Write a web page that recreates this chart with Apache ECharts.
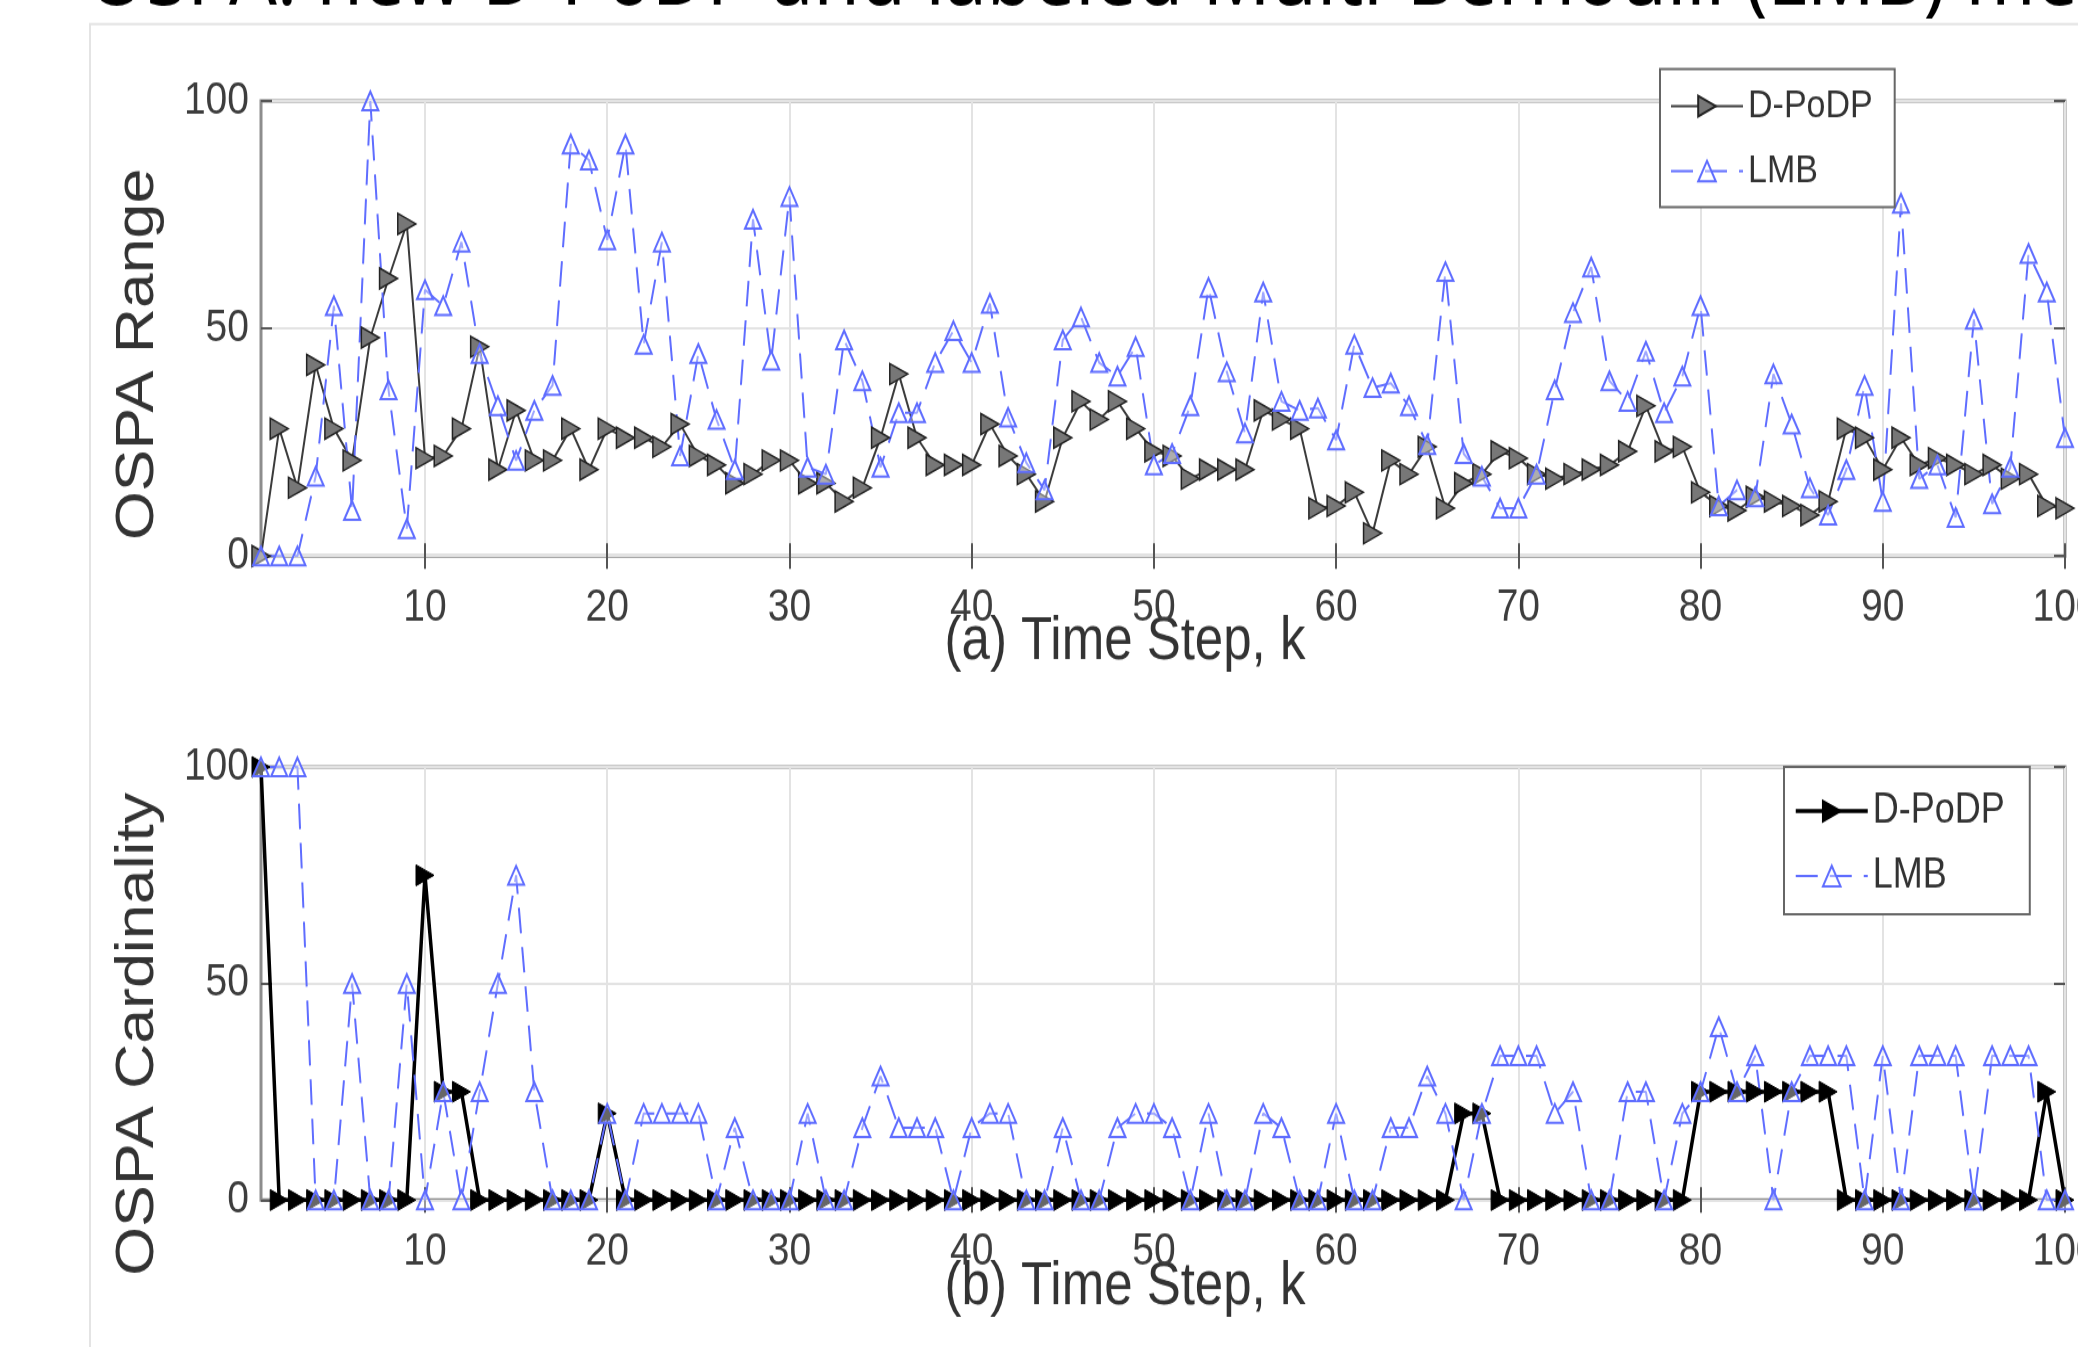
<!DOCTYPE html>
<html>
<head>
<meta charset="utf-8">
<script src="https://cdn.jsdelivr.net/npm/echarts@6/dist/echarts.min.js"></script>
<style>
  html, body { margin: 0; padding: 0; background: #fff; overflow: hidden; width: 2078px; height: 1347px; }
  /* the source figure is stretched vertically, so draw at 1161px and stretch */
  #chart { width: 2078px; height: 1161px; transform: scaleY(1.16021); transform-origin: 0 0; }
</style>
</head>
<body>
<div id="chart"></div>
<script>
const SY = 1347 / 1161;

// time steps k = 1..100
const steps = [];
for (let k = 1; k <= 100; k++) steps.push(String(k));
const xTicks = [10, 20, 30, 40, 50, 60, 70, 80, 90, 100];

// (a) OSPA range
const rangeDpodp = [
  0, 28, 15, 42, 28, 21, 48, 61, 73, 21.5,
  22, 28, 46, 19, 32, 21, 21, 28, 19, 28,
  26, 26, 24, 29, 22, 20, 16, 18, 21, 21,
  16, 16, 12, 15, 26, 40, 26, 20, 20, 20,
  29, 22, 18, 12, 26, 34, 30, 34, 28, 23,
  22, 17, 19, 19, 19, 32, 30, 28, 10.5, 11,
  14, 5, 21, 18, 24, 10.5, 16, 18, 23, 21.5,
  18, 17, 18, 19, 20, 23, 33, 23, 24, 14,
  11, 10, 13, 12, 11, 9, 12, 28, 26, 19,
  26, 20, 21.5, 20, 18, 20, 17, 18, 11, 10.5
];
const rangeLmb = [
  0, 0, 0, 17.5, 55, 10, 100, 36.5, 6, 58.5,
  55, 69, 44.5, 33, 21, 32, 37.5, 90.5, 87, 69.5,
  90.5, 46.5, 69, 22, 44.5, 30, 19, 74, 43, 79,
  19.5, 18, 47.5, 38.5, 19.5, 31.5, 31.5, 42.5, 49.5, 42.5,
  55.5, 30.5, 20.5, 14.5, 47.5, 52.5, 42.5, 39.5, 46, 20,
  22.5, 33, 59, 40.5, 27, 58, 34, 32, 32.5, 25.5,
  46.5, 37, 38, 33, 24.5, 62.5, 22.5, 17.5, 10.5, 10.5,
  18, 36.5, 53.5, 63.5, 38.5, 34, 45, 31.5, 39.5, 55,
  11, 14.5, 13, 40, 29, 15, 9, 19, 37.5, 12,
  77.5, 17, 20, 8.5, 52, 11.5, 19.5, 66.5, 58, 26
];

// (b) OSPA cardinality
const cardDpodp = [
  100, 0, 0, 0, 0, 0, 0, 0, 0, 75,
  25, 25, 0, 0, 0, 0, 0, 0, 0, 20,
  0, 0, 0, 0, 0, 0, 0, 0, 0, 0,
  0, 0, 0, 0, 0, 0, 0, 0, 0, 0,
  0, 0, 0, 0, 0, 0, 0, 0, 0, 0,
  0, 0, 0, 0, 0, 0, 0, 0, 0, 0,
  0, 0, 0, 0, 0, 0, 20, 20, 0, 0,
  0, 0, 0, 0, 0, 0, 0, 0, 0, 25,
  25, 25, 25, 25, 25, 25, 25, 0, 0, 0,
  0, 0, 0, 0, 0, 0, 0, 0, 25, 0
];
const cardLmb = [
  100, 100, 100, 0, 0, 50, 0, 0, 50, 0,
  25, 0, 25, 50, 75, 25, 0, 0, 0, 20,
  0, 20, 20, 20, 20, 0, 16.7, 0, 0, 0,
  20, 0, 0, 16.7, 28.6, 16.7, 16.7, 16.7, 0, 16.7,
  20, 20, 0, 0, 16.7, 0, 0, 16.7, 20, 20,
  16.7, 0, 20, 0, 0, 20, 16.7, 0, 0, 20,
  0, 0, 16.7, 16.7, 28.6, 20, 0, 20, 33.3, 33.3,
  33.3, 20, 25, 0, 0, 25, 25, 0, 20, 25,
  40, 25, 33.3, 0, 25, 33.3, 33.3, 33.3, 0, 33.3,
  0, 33.3, 33.3, 33.3, 0, 33.3, 33.3, 33.3, 0, 0
];

const FONT = "'Liberation Sans', Arial, Helvetica, sans-serif";
const BLUE = '#5f6dff';
const RIGHT_TRI = 'path://M0,0L10,5L0,10Z';
const onTick = (i, v) => xTicks.indexOf(Number(v)) >= 0;
const tickLine = { color: '#555', width: 2 };

function xAxes(grid) {
  return [{
    type: 'category', gridIndex: grid, data: steps, boundaryGap: false,
    axisLine: { show: false },
    axisTick: { inside: true, length: 11, interval: onTick, lineStyle: tickLine },
    axisLabel: { interval: onTick, margin: 45, verticalAlign: 'middle', fontSize: 39, color: '#3d3d3d', fontFamily: FONT },
    splitLine: { show: true, interval: onTick, lineStyle: { color: '#e3e3e3', width: 2 } }
  }, {
    type: 'category', gridIndex: grid, data: steps, boundaryGap: false, position: 'top',
    axisLine: { show: false }, axisLabel: { show: false }, splitLine: { show: false },
    axisTick: { inside: true, length: 11, interval: onTick, lineStyle: tickLine }
  }];
}

function yAxes(grid) {
  return [{
    type: 'value', gridIndex: grid, min: 0, max: 100, interval: 50,
    axisLine: { show: false },
    axisTick: { show: true, inside: true, length: 11, lineStyle: tickLine },
    axisLabel: { margin: 12, fontSize: 39, color: '#3d3d3d', fontFamily: FONT },
    splitLine: { lineStyle: { color: '#e3e3e3', width: 2 } }
  }, {
    type: 'value', gridIndex: grid, min: 0, max: 100, interval: 50, position: 'right',
    axisLine: { show: false }, axisLabel: { show: false }, splitLine: { show: false },
    axisTick: { show: true, inside: true, length: 11, lineStyle: tickLine }
  }];
}

function dpodp(data, xi, yi, bold) {
  return {
    name: 'D-PoDP', type: 'line', xAxisIndex: xi, yAxisIndex: yi, data: data,
    symbol: RIGHT_TRI, symbolSize: [18, 18], showAllSymbol: true,
    lineStyle: { color: bold ? '#000' : '#3b3b3b', width: bold ? 3.5 : 2 },
    itemStyle: bold ? { color: '#000', borderColor: '#000', borderWidth: 1 }
                    : { color: '#777', borderColor: '#222', borderWidth: 1.5 }
  };
}

function lmb(data, xi, yi) {
  return {
    name: 'LMB', type: 'line', xAxisIndex: xi, yAxisIndex: yi, data: data,
    symbol: 'triangle', symbolSize: [16, 16], showAllSymbol: true,
    lineStyle: { color: BLUE, width: 2, type: [22, 12] },
    itemStyle: { color: 'rgba(255,255,255,0.4)', borderColor: BLUE, borderWidth: 2 }
  };
}

function legendBox(left, top, fontSize, padding, bold) {
  return {
    left: left, top: top, orient: 'vertical', padding: padding, itemGap: 16,
    itemWidth: 72, itemHeight: 22, selectedMode: false,
    backgroundColor: '#fff', borderColor: '#666', borderWidth: 2,
    textStyle: { fontSize: fontSize, lineHeight: 40, color: '#333', fontFamily: FONT },
    data: [
      bold ? { name: 'D-PoDP', itemStyle: { color: '#000', borderColor: '#000' }, lineStyle: { color: '#000', width: 3.5 } }
           : { name: 'D-PoDP' },
      { name: 'LMB' }
    ]
  };
}

function label(text, x, y, size, rot) {
  return {
    type: 'text', x: x, y: y, rotation: rot || 0,
    style: { text: text, font: size + 'px ' + FONT, fill: '#333',
             align: 'center', verticalAlign: 'middle', textAlign: 'center', textVerticalAlign: 'middle' }
  };
}

const chart = echarts.init(document.getElementById('chart'), null, { renderer: 'canvas' });

chart.setOption({
  animation: false,
  backgroundColor: '#fff',
  grid: [
    { left: 261, right: 13, top: 101 / SY, height: 455 / SY, outerBoundsMode: 'none',
      show: true, borderColor: '#8d8d8d', borderWidth: 3 },
    { left: 261, right: 13, top: 767 / SY, height: 433 / SY, outerBoundsMode: 'none',
      show: true, borderColor: '#8d8d8d', borderWidth: 3 }
  ],
  xAxis: xAxes(0).concat(xAxes(1)),
  yAxis: yAxes(0).concat(yAxes(1)),
  legend: [
    legendBox(1660, 69 / SY, 34, [12, 22, 11, 10], false),
    legendBox(1784, 767 / SY, 36, [18, 25, 13, 10], true)
  ],
  series: [
    dpodp(rangeDpodp, 0, 0, false),
    lmb(rangeLmb, 0, 0),
    dpodp(cardDpodp, 2, 2, true),
    lmb(cardLmb, 2, 2)
  ],
  graphic: [
    // frame of the embedded picture
    { type: 'polyline', shape: { points: [[90, 1161], [90, 20.7], [2078, 20.7]] },
      style: { stroke: '#e4e4e4', lineWidth: 2, fill: null } },
    // page heading, cut off by the top edge
    { type: 'text', x: 1725, y: 20,
      style: { text: 'OSPA: new D-PoDP and labeled Multi-Bernoulli', font: "75px 'Noto Sans', sans-serif",
               fill: '#000', align: 'right', verticalAlign: 'bottom', textAlign: 'right', textVerticalAlign: 'bottom' } },
    { type: 'text', x: 1745, y: 20,
      style: { text: '(LMB) method', font: "75px 'Noto Sans', sans-serif",
               fill: '#000', align: 'left', verticalAlign: 'bottom', textAlign: 'left', textVerticalAlign: 'bottom' } },
    label('OSPA Range', 138, 305.4, 54, Math.PI / 2),
    label('OSPA Cardinality', 138, 891.4, 54, Math.PI / 2),
    label('(a) Time Step, k', 1125, 554.3, 51),
    label('(b) Time Step, k', 1125, 1109.6, 51)
  ]
});
</script>
</body>
</html>
